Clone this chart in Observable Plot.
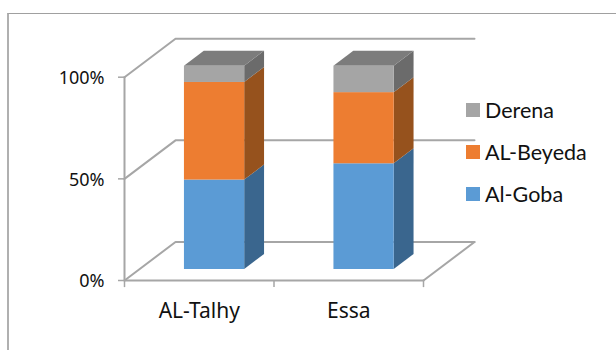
<!DOCTYPE html>
<html>
<head>
<meta charset="utf-8">
<script src="https://cdn.jsdelivr.net/npm/d3@7"></script>
<script src="https://cdn.jsdelivr.net/npm/@observablehq/plot@0.6"></script>
<style>
  html, body { margin: 0; padding: 0; background: #fff; }
  #chart { position: relative; width: 616px; height: 350px; overflow: hidden; font-family: Lato, sans-serif; }
  #chart svg { position: absolute; left: 0; top: 0; }
  .frame { position: absolute; left: 7px; top: 13px; right: 0; bottom: 0; border-left: 2px solid #b0b0b0; border-top: 1px solid #a0a0a0; }
  .legend-item { position: absolute; left: 466px; height: 14px; }
  .legend-item i { position: absolute; left: 0; top: 0; width: 14px; height: 14px; }
  .legend-item span { position: absolute; left: 19px; top: -5px; font-size: 21.5px; line-height: 24px; color: #111; white-space: nowrap; }
</style>
</head>
<body>
<div id="chart"><div class="frame"></div></div>
<script>
// Stacked shares (percent) per site
const sites = ["AL-Talhy", "Essa"];
const alGoba = [44, 52];
const alBeyeda = [48, 35];
const derena = [8, 13];

const seriesNames = ["Al-Goba", "AL-Beyeda", "Derena"];
const seriesValues = [alGoba, alBeyeda, derena];
const frontColors = ["#5b9bd5", "#ed7d31", "#a5a5a5"];
const sideColors = ["#3a668e", "#96521d", "#6b6b6b"];
const topColors = ["#4a7eae", "#c2662a", "#7c7c7c"];
const legendTops = [187, 145, 103];

const yTicks = [0, 50, 100];
const axisColor = "#a6a6a6";

// Oblique projection: depth 0 is the front of the floor, depth 1 the back wall
const slotPx = 149.5;
const depthPx = {x: 51, y: 38.5};
const valuePx = 203.3 / 100;
const skewX = d => d * depthPx.x / slotPx;
const skewY = d => d * depthPx.y / valuePx;
const projX = (x, d) => x + skewX(d);
const projY = (v, d) => v + skewY(d);

const barStart = 0.3035;
const barWidth = 0.403;
const barFront = 0.2857;
const barBack = 0.675;

// Faces of every stacked segment
const fronts = [], sides = [], tops = [];
sites.forEach((site, i) => {
  const x0 = i + barStart, x1 = x0 + barWidth;
  let base = 0;
  seriesValues.forEach((values, s) => {
    const next = base + values[i];
    fronts.push({x1: projX(x0, barFront), x2: projX(x1, barFront), y1: projY(base, barFront), y2: projY(next, barFront), fill: frontColors[s]});
    const id = `${i}-${s}`;
    [barFront, barBack].forEach(d => sides.push({id, fill: sideColors[s], x: projX(x1, d), y1: projY(base, d), y2: projY(next, d)}));
    if (s === seriesValues.length - 1) {
      [barFront, barBack].forEach(d => tops.push({id, fill: topColors[s], y: projY(next, d), x1: projX(x0, d), x2: projX(x1, d)}));
    }
    base = next;
  });
});

// Axis frame: wall and floor edges drawn as polylines
const gridLines = yTicks.flatMap(v => [
  {id: "v" + v, x: projX(0, 0), y: projY(v, 0)},
  {id: "v" + v, x: projX(0, 1), y: projY(v, 1)},
  {id: "v" + v, x: projX(2, 1), y: projY(v, 1)}
]);
const edgeLines = [
  {id: "left", x: 0, y: 0}, {id: "left", x: 0, y: 100},
  {id: "front", x: 0, y: 0}, {id: "front", x: 2, y: 0},
  {id: "right", x: projX(2, 0), y: projY(0, 0)}, {id: "right", x: projX(2, 1), y: projY(0, 1)}
];

const plot = Plot.plot({
  width: 616,
  height: 350,
  margin: 0,
  x: {type: "linear", domain: [-124 / slotPx, (616 - 124) / slotPx], range: [0, 616], axis: null},
  y: {type: "linear", domain: [-70 / valuePx, 280 / valuePx], range: [350, 0], axis: null},
  marks: [
    Plot.line(gridLines, {x: "x", y: "y", z: "id", stroke: axisColor, strokeWidth: 2, curve: "linear"}),
    Plot.line(edgeLines, {x: "x", y: "y", z: "id", stroke: axisColor, strokeWidth: 2, curve: "linear"}),
    // Tick marks on both axes
    Plot.ruleY(yTicks, {y: d => d, x1: -6 / slotPx, x2: 0, stroke: axisColor, strokeWidth: 1.5}),
    Plot.ruleX([0, 1, 2], {x: d => d, y1: 0, y2: -3.5, stroke: axisColor, strokeWidth: 1.5}),
    // Bars
    Plot.areaY(sides, {x: "x", y1: "y1", y2: "y2", z: "id", fill: "fill", curve: "linear"}),
    Plot.areaX(tops, {y: "y", x1: "x1", x2: "x2", z: "id", fill: "fill", curve: "linear"}),
    Plot.rect(fronts, {x1: "x1", x2: "x2", y1: "y1", y2: "y2", fill: "fill"}),
    // Axis labels
    Plot.text(yTicks, {x: 0, y: d => d, text: d => d + "%", textAnchor: "end", dx: -20, dy: 1, fontSize: 18, fill: "#111"}),
    Plot.text(sites, {x: (d, i) => i + 0.5, y: -15, text: d => d, fontSize: 21, fill: "#111"})
  ]
});
const chart = document.getElementById("chart");
chart.appendChild(plot);

// Legend sits to the right of the plot, top to bottom
seriesNames.forEach((name, s) => {
  const item = document.createElement("div");
  item.className = "legend-item";
  item.style.top = legendTops[s] + "px";
  item.innerHTML = `<i style="background:${frontColors[s]}"></i><span>${name}</span>`;
  chart.appendChild(item);
});
</script>
</body>
</html>
